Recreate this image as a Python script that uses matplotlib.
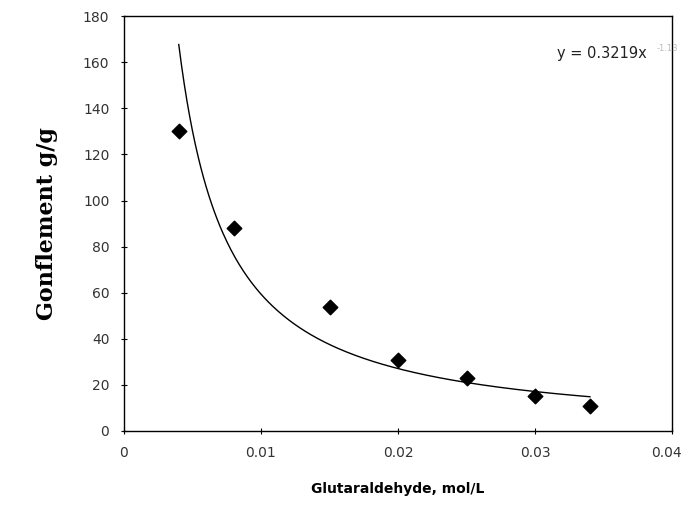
import numpy as np
import matplotlib.pyplot as plt
from matplotlib.transforms import ScaledTranslation

# measured swelling vs glutaraldehyde concentration
conc = [0.004, 0.008, 0.015, 0.020, 0.025, 0.030, 0.034]
swelling = [130, 88, 54, 31, 23, 15, 11]

# power fit y = a * x^-b
fit_a = 0.3219
fit_b = 1.133

yticks = [0, 20, 40, 60, 80, 100, 120, 140, 160, 180]
xticks = [0, 0.01, 0.02, 0.03, 0.04]
xlabels = ["0", "0.01", "0.02", "0.03", "0.04"]

fig = plt.figure(figsize=(6.81, 5.07), dpi=100)
ax = fig.add_axes([0.182, 0.150, 0.805, 0.818])

xf = np.linspace(conc[0], conc[-1], 300)
ax.plot(xf, fit_a * xf ** (-fit_b), color="black", lw=1.0)
ax.scatter(conc, swelling, marker="D", s=55, color="black", zorder=3)

ax.set_xlim(0, 0.04)
ax.set_ylim(0, 180)
ax.set_xticks(xticks)
ax.set_xticklabels(xlabels)
ax.set_yticks(yticks)
ax.tick_params(direction="inout", length=5, width=0.8, labelsize=10,
               labelcolor="#333333", pad=8)
for s in ax.spines.values():
    s.set_linewidth(1.0)

# keep the last x label inside the figure
last = ax.get_xticklabels()[-1]
last.set_transform(last.get_transform() +
                   ScaledTranslation(-6 / 100, 0, fig.dpi_scale_trans))

ax.text(0.0316, 164, "y = 0.3219x", fontsize=10.5, color="#222222",
        ha="left", va="center")
ax.text(0.0389, 166, "-1.13", fontsize=6, color="#bbbbbb",
        ha="left", va="center")

ax.set_xlabel("Glutaraldehyde, mol/L", fontsize=10, fontweight="bold",
              labelpad=16)
ax.set_ylabel("Gonflement g/g", fontsize=16, fontweight="bold",
              family="DejaVu Serif", labelpad=18)

fig.savefig("out.png", dpi=100)
